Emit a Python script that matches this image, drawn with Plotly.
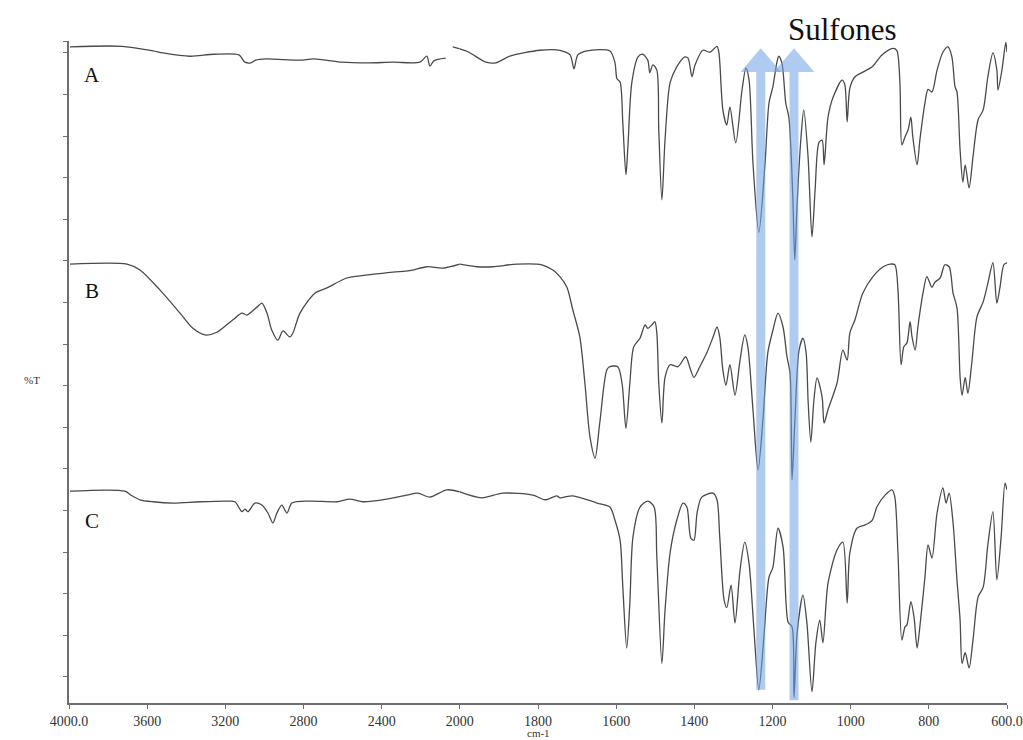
import plotly.graph_objects as go

# ---------------- data (wavenumber cm-1, displayed %T) ----------------
wn_A = [3995, 3729, 3570, 3519, 3381, 3258, 3130, 3100, 3069, 3044, 2992, 2818, 2747, 2604, 2466, 2343,
        2205, 2169, 2153, 2133, 2072, 2055, 2036, 2000, 1977, 1933, 1908, 1872, 1795,
        1744, 1718, 1708, 1698, 1675, 1616, 1603, 1598, 1590, 1583, 1575, 1570, 1560, 1544, 1532, 1519,
        1514, 1506, 1496, 1491, 1483, 1475, 1462, 1445, 1424, 1416, 1406, 1398, 1378, 1360, 1342, 1337,
        1327, 1317, 1309, 1294, 1278, 1268, 1260, 1250, 1235, 1219, 1209, 1199, 1189, 1184, 1176, 1166,
        1158, 1148, 1143, 1137, 1127, 1120, 1109, 1099, 1091, 1081, 1073, 1068, 1058, 1045, 1022, 1015,
        1009, 1002, 989, 969, 945, 920, 892, 882, 874, 869, 861, 853, 846, 841, 830, 823, 810, 802, 792,
        779, 764, 751, 741, 733, 728, 720, 713, 707, 697, 687, 674, 661, 649, 636, 626, 623, 613, 603, 600]
t_A = [99.1, 99.2, 98.5, 98.2, 97.7, 98.0, 97.9, 96.8, 96.7, 97.1, 97.3, 97.1, 97.3, 96.8, 96.7, 96.8,
       96.8, 97.7, 96.2, 97.0, 97.4, None, 99.1, 98.8, 98.3, 96.8, 96.7, 97.7, 98.6,
       98.6, 97.9, 95.8, 97.9, 98.5, 98.5, 96.7, 94.3, 93.8, 87.6, 79.8, 84.0, 93.7, 97.6, 98.0, 97.1,
       95.2, 96.4, 95.6, 86.6, 76.0, 85.0, 93.7, 96.1, 97.6, 97.4, 94.6, 96.4, 98.6, 98.3, 99.2, 98.2,
       89.6, 87.3, 90.0, 84.6, 92.6, 95.9, 94.1, 81.6, 71.1, 81.6, 90.6, 93.1, 96.7, 97.7, 96.7, 90.6,
       88.4, 76.4, 66.9, 75.5, 85.5, 89.6, 82.5, 70.4, 77.5, 84.7, 85.0, 81.3, 88.5, 91.5, 94.1, 93.4,
       87.8, 92.9, 94.6, 95.3, 96.1, 97.9, 98.9, 98.6, 93.7, 84.3, 85.5, 86.6, 88.5, 85.5, 81.3, 85.0,
       90.6, 92.7, 92.3, 95.6, 98.3, 99.1, 97.6, 93.1, 92.3, 83.5, 78.7, 81.3, 77.8, 82.5, 88.1, 89.6,
       94.6, 98.2, 95.6, 92.6, 95.6, 99.8, 98.3]

wn_B = [3995, 3703, 3637, 3535, 3432, 3366, 3304, 3243, 3161, 3115, 3090, 3038, 3013, 2987, 2962, 2931,
        2905, 2870, 2854, 2818, 2742, 2680, 2578, 2460, 2343, 2256, 2169, 2087, 2000, 1956, 1916, 1854,
        1790, 1762, 1744, 1726, 1711, 1693, 1680, 1667, 1654, 1642, 1624, 1616, 1596, 1585, 1575, 1565,
        1555, 1539, 1526, 1519, 1509, 1501, 1496, 1491, 1483, 1475, 1462, 1442, 1422, 1411, 1401, 1386,
        1368, 1352, 1342, 1335, 1327, 1319, 1309, 1296, 1283, 1271, 1263, 1250, 1237, 1224, 1212, 1199,
        1186, 1173, 1163, 1155, 1150, 1143, 1132, 1122, 1114, 1109, 1102, 1094, 1086, 1073, 1068, 1058,
        1035, 1020, 1009, 1002, 989, 969, 943, 917, 899, 887, 879, 871, 864, 856, 848, 843, 835, 828,
        815, 805, 792, 784, 771, 759, 748, 738, 728, 720, 715, 707, 700, 690, 677, 661, 649, 636, 626,
        618, 608, 600]
t_B = [66.3, 66.3, 65.4, 62.4, 58.9, 56.6, 55.6, 56.0, 57.9, 58.9, 58.6, 59.8, 60.4, 58.9, 56.3, 54.8,
       56.2, 55.3, 55.9, 58.9, 61.9, 62.7, 64.2, 64.7, 65.1, 65.3, 65.9, 65.7, 66.3, 65.9, 65.9, 66.3,
       66.2, 65.4, 64.4, 62.8, 59.4, 55.3, 48.3, 40.2, 37.0, 42.3, 50.3, 50.8, 50.8, 48.3, 41.5, 48.3,
       53.8, 55.1, 57.1, 56.6, 57.1, 57.6, 55.9, 48.3, 42.3, 49.2, 51.1, 50.8, 52.3, 50.6, 49.2, 50.8,
       52.9, 55.3, 56.8, 55.3, 50.3, 48.0, 51.1, 46.5, 51.8, 55.6, 53.8, 44.3, 35.2, 43.2, 52.9, 56.3,
       58.9, 56.8, 52.3, 49.8, 33.7, 42.3, 53.3, 55.1, 52.9, 45.8, 39.4, 45.8, 49.1, 46.2, 42.3, 44.3,
       48.3, 53.3, 51.8, 55.9, 57.9, 61.9, 64.4, 65.9, 66.3, 66.2, 62.4, 51.1, 53.8, 54.4, 57.6, 55.3,
       53.3, 56.8, 61.9, 64.4, 62.8, 63.6, 64.2, 66.2, 65.9, 61.9, 59.7, 49.2, 46.5, 49.2, 46.8, 51.4,
       58.3, 60.6, 63.4, 66.5, 60.4, 62.8, 66.2, 66.5]

wn_C = [3995, 3714, 3678, 3637, 3570, 3468, 3330, 3192, 3151, 3115, 3100, 3084, 3049, 3013, 2982, 2957,
        2936, 2911, 2885, 2859, 2767, 2629, 2563, 2496, 2373, 2271, 2215, 2153, 2067, 2000, 1944, 1890,
        1813, 1782, 1752, 1744, 1711, 1649, 1616, 1603, 1590, 1583, 1573, 1565, 1557, 1539, 1519, 1503,
        1496, 1483, 1475, 1462, 1445, 1429, 1419, 1409, 1401, 1393, 1381, 1352, 1342, 1335, 1324, 1317,
        1306, 1296, 1283, 1271, 1260, 1248, 1235, 1222, 1209, 1199, 1186, 1173, 1160, 1150, 1145, 1137,
        1122, 1112, 1099, 1089, 1079, 1071, 1058, 1035, 1020, 1009, 1002, 984, 963, 945, 933, 912, 894,
        887, 879, 869, 861, 856, 846, 838, 830, 823, 810, 802, 792, 779, 764, 756, 748, 738, 728, 720,
        715, 707, 697, 687, 674, 661, 649, 636, 626, 615, 605, 600]
t_C = [32.0, 32.0, 31.3, 30.7, 30.4, 30.2, 30.4, 30.5, 30.4, 28.9, 29.3, 28.9, 30.2, 29.9, 28.7, 27.2,
       28.7, 29.9, 28.7, 30.2, 30.5, 30.4, 30.8, 30.4, 30.8, 31.4, 31.7, 31.1, 32.2, 31.9, 31.0, 31.7,
       31.4, 30.7, 31.3, 31.0, 31.3, 30.2, 29.6, 27.6, 24.6, 17.5, 8.3, 15.1, 25.1, 29.6, 30.5, 29.6,
       22.1, 6.0, 14.0, 22.7, 27.6, 30.2, 29.6, 24.9, 24.6, 28.7, 31.1, 31.7, 30.7, 25.1, 15.6, 14.4,
       17.8, 12.1, 20.1, 24.3, 21.1, 11.5, 2.0, 10.0, 19.0, 20.5, 26.4, 23.6, 12.2, 11.5, 0.8, 10.6,
       16.3, 12.1, 1.7, 9.1, 12.5, 9.1, 18.1, 23.1, 24.3, 15.1, 22.7, 26.4, 26.9, 27.6, 29.6, 31.4, 32.2,
       31.1, 22.7, 9.5, 11.5, 11.8, 15.3, 13.0, 8.3, 11.5, 19.0, 23.9, 21.9, 28.7, 32.5, 30.2, 31.7, 27.2,
       18.6, 12.5, 6.0, 7.6, 5.3, 9.5, 16.0, 17.5, 23.9, 28.9, 18.6, 25.1, 33.2, 32.2]

spectra = [("A", wn_A, t_A, 94.9), ("B", wn_B, t_B, 62.2), ("C", wn_C, t_C, 27.5)]

ticks_left = [4000, 3600, 3200, 2800, 2400]
ticks_right = [2000, 1800, 1600, 1400, 1200, 1000, 800, 600]
labels_left = ["4000.0", "3600", "3200", "2800", "2400"]
labels_right = ["2000", "1800", "1600", "1400", "1200", "1000", "800", "600.0"]

sulfone_bands = [1230, 1145]   # cm-1
arrow_bottoms = [2.0, 0.4]

BREAK = 2000
SERIF = "Liberation Serif, Times New Roman, serif"
LINE = "#4a4a4a"
AXIS = "#6e6e6e"

fig = go.Figure()
for name, wn, t, lab_y in spectra:
    left = [(w, v) for w, v in zip(wn, t) if w >= BREAK]
    right = [(w, v) for w, v in zip(wn, t) if w <= BREAK]
    for part, xa in ((left, "x"), (right, "x2")):
        fig.add_trace(go.Scatter(
            x=[p[0] for p in part], y=[p[1] for p in part], xaxis=xa, yaxis="y",
            mode="lines", connectgaps=False, cliponaxis=False,
            line=dict(color=LINE, width=1.3, shape="spline", smoothing=0.8),
            showlegend=False, hoverinfo="skip"))
    fig.add_annotation(x=3880, y=lab_y, xref="x", yref="y", text=name, showarrow=False,
                       font=dict(family=SERIF, size=21, color="#111"), xanchor="center")

# y ticks (unlabelled)
y_top = 100.0
y_ticks = [3.93 + 6.284 * k for k in range(16)] + [y_top]

frac = 5 / 12
common_x = dict(showline=True, linecolor=AXIS, linewidth=1.5, ticks="outside", ticklen=4,
                tickcolor=AXIS, showgrid=False, zeroline=False, automargin=False,
                tickfont=dict(family=SERIF, size=14, color="#333"), anchor="y")
fig.update_layout(
    width=1023, height=740,
    margin=dict(l=69, r=16, t=41, b=37, autoexpand=False),
    paper_bgcolor="white", plot_bgcolor="white",
    xaxis=dict(domain=[0, frac], range=[4000, BREAK], tickvals=ticks_left, ticktext=labels_left, **common_x),
    xaxis2=dict(domain=[frac, 1], range=[BREAK, 600], tickvals=ticks_right, ticktext=labels_right, **common_x),
    yaxis=dict(range=[0, y_top], showline=True, linecolor=AXIS, linewidth=1.5, ticks="outside",
               ticklen=4, tickcolor=AXIS, tickvals=y_ticks, showticklabels=False,
               showgrid=False, zeroline=False, automargin=False),
)

# Sulfone arrows
half_shaft, half_head, head_base, head_top = 11.5, 52, 95.3, 98.9
for wc, yb in zip(sulfone_bands, arrow_bottoms):
    path = (f"M {wc + half_shaft},{yb} L {wc + half_shaft},{head_base} L {wc + half_head},{head_base} "
            f"L {wc},{head_top} L {wc - half_head},{head_base} L {wc - half_shaft},{head_base} "
            f"L {wc - half_shaft},{yb} Z")
    fig.add_shape(type="path", path=path, xref="x2", yref="y", layer="above",
                  fillcolor="rgba(110,160,225,0.55)", line=dict(width=0))

fig.add_annotation(x=0.825, y=1.017, xref="paper", yref="paper", text="Sulfones", showarrow=False,
                   font=dict(family=SERIF, size=31, color="#111"), yanchor="middle", xanchor="center")
fig.add_annotation(x=-0.050, y=0.488, xref="paper", yref="paper", text="%T", showarrow=False,
                   font=dict(family=SERIF, size=11, color="#333"))
fig.add_annotation(x=0.5, y=-0.0455, xref="paper", yref="paper", text="cm-1", showarrow=False,
                   font=dict(family=SERIF, size=11, color="#333"), yanchor="middle")

fig.write_html("out.html", config={"displayModeBar": False},
               post_script="document.body.style.margin='0';document.body.style.overflow='hidden';")
